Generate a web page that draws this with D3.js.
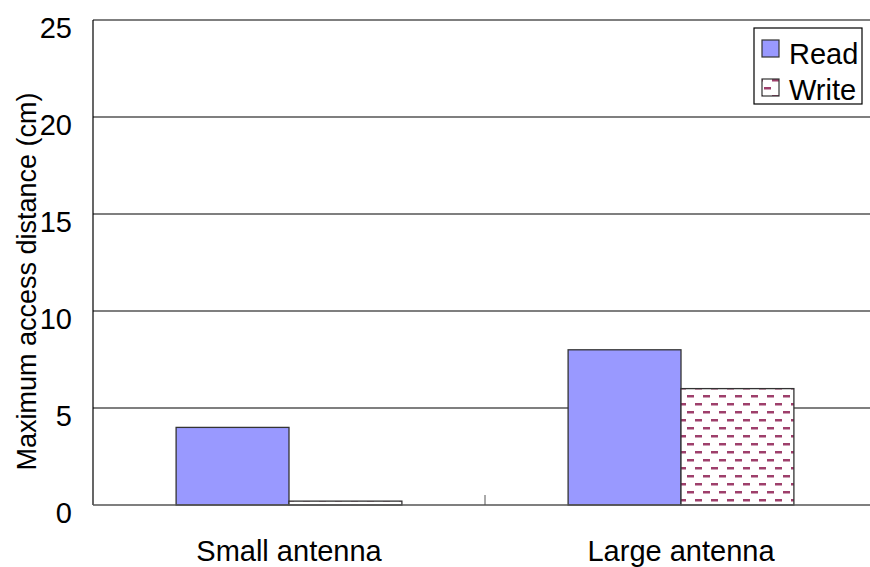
<!DOCTYPE html>
<html>
<head>
<meta charset="utf-8">
<script src="https://cdn.jsdelivr.net/npm/d3@7"></script>
<style>
  body { margin: 0; background: #fff; }
  text { font-family: "Liberation Sans", Arial, sans-serif; fill: #000; }
</style>
</head>
<body>
<div id="chart"></div>
<script>
// data
const categories = ["Small antenna", "Large antenna"];
const series = ["Read", "Write"];
const readValues = [4, 8];
const writeValues = [0.2, 6];
const yTicks = [0, 5, 10, 15, 20, 25];

const width = 870, height = 567;
const margin = {top: 20, right: -7, bottom: 62, left: 93};

const svg = d3.select("#chart").append("svg")
  .attr("width", width)
  .attr("height", height);

// hatch pattern for Write
const defs = svg.append("defs");
const pat = defs.append("pattern")
  .attr("id", "dash")
  .attr("patternUnits", "userSpaceOnUse")
  .attr("width", 16).attr("height", 16);
pat.append("rect").attr("width", 16).attr("height", 16).attr("fill", "#fff");
pat.append("rect").attr("x", 2).attr("y", 3).attr("width", 7).attr("height", 2.5).attr("fill", "#9e3f6b");
pat.append("rect").attr("x", 10).attr("y", 11).attr("width", 7).attr("height", 2.5).attr("fill", "#9e3f6b");
pat.append("rect").attr("x", -6).attr("y", 11).attr("width", 7).attr("height", 2.5).attr("fill", "#9e3f6b");

const x = d3.scaleBand()
  .domain(categories)
  .range([margin.left, width - margin.right]);

const x1 = d3.scaleBand()
  .domain(series)
  .range([x.bandwidth() * 0.212, x.bandwidth() * 0.788]);

const y = d3.scaleLinear()
  .domain([0, 25])
  .range([height - margin.bottom, margin.top]);

// gridlines
svg.append("g")
  .selectAll("line")
  .data(yTicks.slice(1))
  .join("line")
  .attr("x1", margin.left)
  .attr("x2", width)
  .attr("y1", d => y(d))
  .attr("y2", d => y(d))
  .attr("stroke", "#000")
  .attr("stroke-width", 1.2);

// y tick labels
svg.append("g")
  .selectAll("text")
  .data(yTicks)
  .join("text")
  .attr("x", 72)
  .attr("y", d => y(d) + 18)
  .attr("text-anchor", "end")
  .attr("font-size", 29)
  .text(d => d);

// bars
const fills = {Read: "#9999ff", Write: "url(#dash)"};
const rows = categories.map((c, i) => ({cat: c, vals: [readValues[i], writeValues[i]]}));

const grp = svg.append("g")
  .selectAll("g")
  .data(rows)
  .join("g")
  .attr("transform", d => `translate(${x(d.cat)},0)`);

grp.selectAll("rect")
  .data(d => series.map((s, j) => ({s, v: d.vals[j]})))
  .join("rect")
  .attr("x", d => x1(d.s))
  .attr("width", x1.bandwidth())
  .attr("y", d => y(d.v))
  .attr("height", d => y(0) - y(d.v))
  .attr("fill", d => fills[d.s])
  .attr("stroke", "#333")
  .attr("stroke-width", 1.3);

// axes lines
svg.append("line")
  .attr("x1", margin.left).attr("x2", margin.left)
  .attr("y1", margin.top).attr("y2", y(0))
  .attr("stroke", "#000").attr("stroke-width", 1.2);
svg.append("line")
  .attr("x1", margin.left).attr("x2", width)
  .attr("y1", y(0)).attr("y2", y(0))
  .attr("stroke", "#555").attr("stroke-width", 1.5);
// category separator tick
svg.append("line")
  .attr("x1", x(categories[1])).attr("x2", x(categories[1]))
  .attr("y1", y(0) - 10).attr("y2", y(0))
  .attr("stroke", "#555").attr("stroke-width", 1);

// category labels
svg.append("g")
  .selectAll("text")
  .data(categories)
  .join("text")
  .attr("x", d => x(d) + x.bandwidth() / 2)
  .attr("y", 561)
  .attr("text-anchor", "middle")
  .attr("font-size", 29)
  .text(d => d);

// y axis title
svg.append("text")
  .attr("transform", `translate(36,${(margin.top + y(0)) / 2 + 19}) rotate(-90)`)
  .attr("text-anchor", "middle")
  .attr("font-size", 27)
  .text("Maximum access distance (cm)");

// legend
const lg = svg.append("g").attr("transform", "translate(754,28)");
lg.append("rect")
  .attr("width", 108).attr("height", 76)
  .attr("fill", "#fff").attr("stroke", "#000").attr("stroke-width", 1.2);
series.forEach((s, i) => {
  lg.append("rect")
    .attr("x", 8).attr("y", 12 + i * 39)
    .attr("width", 17).attr("height", 17)
    .attr("fill", fills[s])
    .attr("stroke", "#333").attr("stroke-width", 1.2);
  lg.append("text")
    .attr("x", 35).attr("y", 36 + i * 36)
    .attr("font-size", 29)
    .text(s);
});
</script>
</body>
</html>
